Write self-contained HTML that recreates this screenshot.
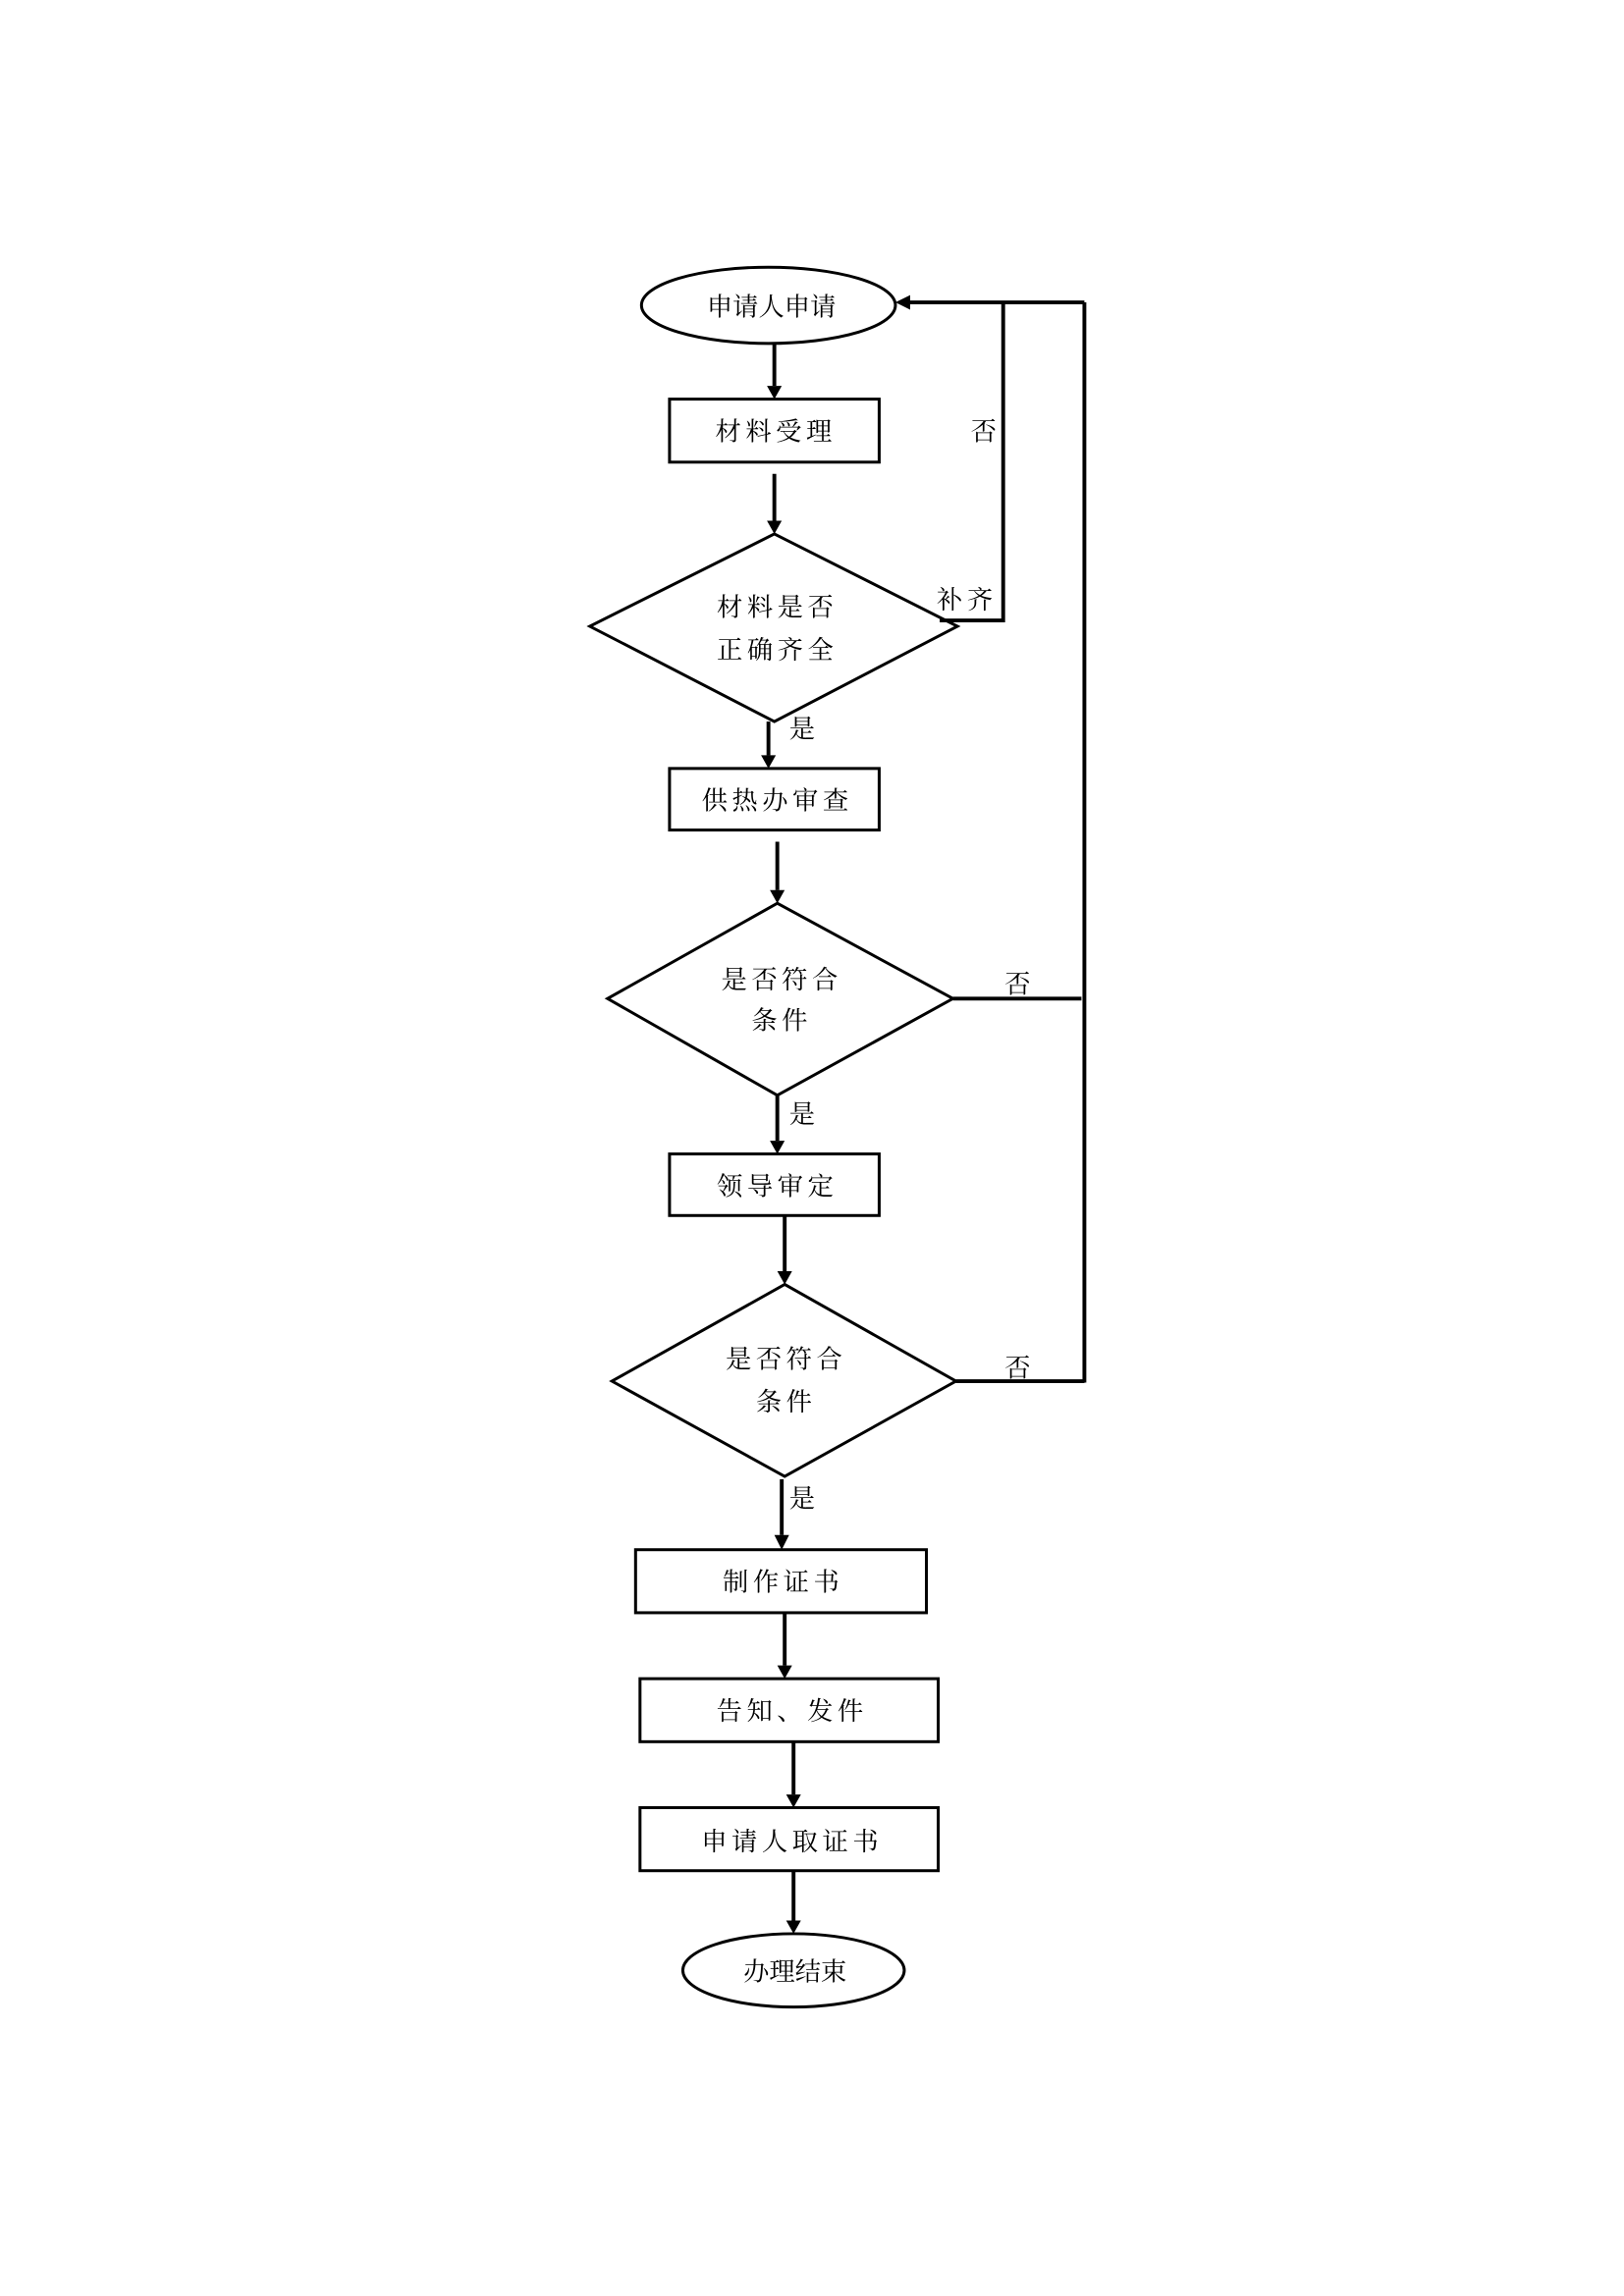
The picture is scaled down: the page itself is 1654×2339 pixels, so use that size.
<!DOCTYPE html>
<html><head><meta charset="utf-8"><style>
html,body{margin:0;padding:0;background:#fff;}
svg{display:block;}
text{font-family:"Liberation Serif","Noto Serif CJK SC",serif;font-size:17.5px;fill:#000;letter-spacing:3px;}
</style></head><body>
<svg width="1654" height="2339" viewBox="0 0 1100 1555.5" preserveAspectRatio="none" xmlns="http://www.w3.org/2000/svg">
<g transform="translate(-3.5,-0.7) scale(1,0.993)">
<g fill="none" stroke="#000" stroke-width="2">
<ellipse cx="524" cy="209" rx="86" ry="26"/>
<rect x="457" y="273" width="142" height="43"/>
<polygon points="528,365 652,428 528,493 403,428"/>
<rect x="457" y="525" width="142" height="42"/>
<polygon points="530,617 649,682 530,748 415,682"/>
<rect x="457" y="788" width="142" height="42"/>
<polygon points="535,877 651,943 535,1008 418,943"/>
<rect x="434" y="1058" width="197" height="43"/>
<rect x="437" y="1146" width="202" height="43"/>
<rect x="437" y="1234" width="202" height="43"/>
<ellipse cx="541" cy="1345" rx="75" ry="25"/>
</g>
<g fill="none" stroke="#000" stroke-width="2.6">
<line x1="528" y1="235" x2="528" y2="264"/>
<line x1="528" y1="324" x2="528" y2="356"/>
<line x1="524" y1="493" x2="524" y2="516"/>
<line x1="530" y1="575" x2="530" y2="608"/>
<line x1="530" y1="748" x2="530" y2="779"/>
<line x1="535" y1="830" x2="535" y2="868"/>
<line x1="533" y1="1010" x2="533" y2="1048"/>
<line x1="535" y1="1101" x2="535" y2="1137"/>
<line x1="541" y1="1189" x2="541" y2="1225"/>
<line x1="541" y1="1277" x2="541" y2="1311"/>
<polyline points="640,424 683,424 683,207"/>
<line x1="738" y1="207" x2="620" y2="207"/>
<line x1="738" y1="207" x2="738" y2="944"/>
<line x1="649" y1="682" x2="736" y2="682"/>
<line x1="651" y1="943" x2="738" y2="943"/>
</g>
<g fill="#000">
<polygon points="523,264 533,264 528,273"/>
<polygon points="523,356 533,356 528,365"/>
<polygon points="519,516 529,516 524,525"/>
<polygon points="525,608 535,608 530,617"/>
<polygon points="525,779 535,779 530,788"/>
<polygon points="530,868 540,868 535,877"/>
<polygon points="528,1048 538,1048 533,1058"/>
<polygon points="530,1137 540,1137 535,1146"/>
<polygon points="536,1225 546,1225 541,1234"/>
<polygon points="536,1311 546,1311 541,1320"/>
<polygon points="620,202 620,212 610,207"/>
</g>
<text x="526" y="216" text-anchor="middle" style="letter-spacing:0">申请人申请</text>
<text x="529" y="301" text-anchor="middle">材料受理</text>
<text x="530" y="421" text-anchor="middle">材料是否</text>
<text x="530" y="450" text-anchor="middle">正确齐全</text>
<text x="530" y="553" text-anchor="middle">供热办审查</text>
<text x="533" y="675" text-anchor="middle">是否符合</text>
<text x="533" y="703" text-anchor="middle">条件</text>
<text x="530" y="816" text-anchor="middle">领导审定</text>
<text x="536" y="934" text-anchor="middle">是否符合</text>
<text x="536" y="963" text-anchor="middle">条件</text>
<text x="534" y="1086" text-anchor="middle">制作证书</text>
<text x="540" y="1174" text-anchor="middle">告知、发件</text>
<text x="540" y="1263" text-anchor="middle">申请人取证书</text>
<text x="542" y="1352" text-anchor="middle" style="letter-spacing:0">办理结束</text>
<text x="638" y="416">补齐</text>
<text x="661" y="301" style="letter-spacing:0">否</text>
<text x="538" y="504" style="letter-spacing:0">是</text>
<text x="684" y="678" style="letter-spacing:0">否</text>
<text x="538" y="767" style="letter-spacing:0">是</text>
<text x="684" y="940" style="letter-spacing:0">否</text>
<text x="538" y="1029" style="letter-spacing:0">是</text>
</g>
</svg>
</body></html>
